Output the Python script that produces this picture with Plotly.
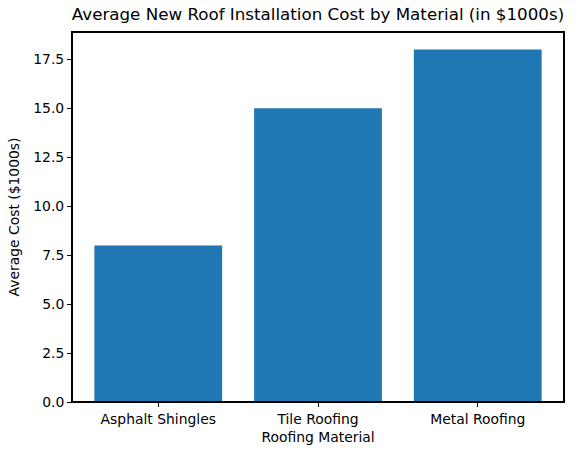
import plotly.graph_objects as go

materials = ["Asphalt Shingles", "Tile Roofing", "Metal Roofing"]
avg_cost = [8, 15, 18]
y_ticks = [0.0, 2.5, 5.0, 7.5, 10.0, 12.5, 15.0, 17.5]

fig = go.Figure(go.Bar(x=list(range(len(materials))), y=avg_cost,
                       width=0.8, marker=dict(color="#1f77b4", line=dict(width=0))))

fig.update_layout(
    width=576, height=455,
    margin=dict(l=72, r=12, t=32, b=53, autoexpand=False),
    paper_bgcolor="white", plot_bgcolor="white",
    font=dict(family="DejaVu Sans", size=13.9, color="black"),
    title=dict(text="Average New Roof Installation Cost by Material (in $1000s)",
               x=(72 + 564) / 2 / 576, xanchor="center", y=1 - 14 / 455, yanchor="middle",
               font=dict(size=16.7)),
    showlegend=False,
    # axes frame (all four spines)
    shapes=[dict(type="rect", xref="paper", yref="paper", x0=0, x1=1, y0=0, y1=1,
                 line=dict(color="black", width=2), fillcolor="rgba(0,0,0,0)",
                 layer="above")],
)
fig.update_xaxes(range=[-0.54, 2.54], tickvals=list(range(len(materials))), ticktext=materials,
                 showline=True, linecolor="black", linewidth=1, mirror=True,
                 automargin=False, ticks="outside", ticklen=4, tickcolor="black",
                 showgrid=False, zeroline=False, tickfont=dict(size=13.9),
                 title=dict(text="Roofing Material", standoff=6, font=dict(size=13.9)))
fig.update_yaxes(range=[0, 18.9], tickvals=y_ticks, ticktext=[f"{v:.1f}" for v in y_ticks],
                 showline=True, linecolor="black", linewidth=1, mirror=True,
                 automargin=False, ticks="outside", ticklen=4, tickcolor="black",
                 showgrid=False, zeroline=False, tickfont=dict(size=13.9),
                 title=dict(text="Average Cost ($1000s)", standoff=10, font=dict(size=13.9)))

# page body has an 8px default margin, drop it so the figure sits at 0,0
fig.write_html("out.html", config={"displayModeBar": False},
               post_script="document.body.style.margin='0';")
